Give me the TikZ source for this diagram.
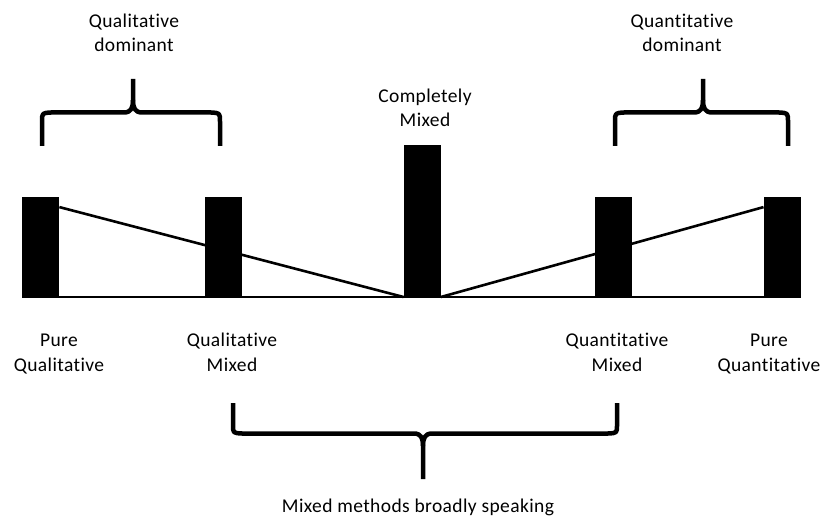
\documentclass[tikz,border=0pt]{standalone}
\usepackage{fontspec}
\setmainfont{Carlito}[LetterSpace=2,Ligatures={NoCommon}]
\begin{document}
\begin{tikzpicture}[x=1pt,y=-1pt,
  bar/.style={fill=black,draw=none,inner sep=0pt,minimum width=37pt,minimum height=101pt,anchor=south west},
  tallbar/.style={bar,minimum height=153pt},
  axisline/.style={line width=2.6pt},
  bracestyle/.style={line width=4.5pt,line join=round,line cap=butt},
  lbl/.style={align=center,inner sep=0pt,anchor=base,font=\fontsize{19.5}{24.5}\selectfont}]
\useasboundingbox (0,0) rectangle (824,518);
% bars
\node[bar] (b1) at (22,298.5) {};
\node[bar] (b2) at (205,298.5) {};
\node[tallbar] (b3) at (403.5,298.5) {};
\node[bar] (b4) at (595,298.5) {};
\node[bar] (b5) at (763.5,298.5) {};
% lines
\coordinate (l1) at ([yshift=-10pt]b1.north east);
\coordinate (l5) at ([yshift=-10pt]b5.north west);
\draw[axisline] ([yshift=1.3pt]b1.south west) -- ([yshift=1.3pt]b5.south east);
\draw[axisline] (l1) -- ([yshift=1.5pt]b3.south west);
\draw[axisline] (l5) -- ([yshift=1.5pt]b3.south east);
% braces
\draw[bracestyle] (42,146) -- (42,122) .. controls (42,113) .. (51,112.5) -- (124,112.5) .. controls (131,112.5) and (133,108) .. (133,100) -- (133,79);
\draw[bracestyle] (220,146) -- (220,122) .. controls (220,113) .. (211,112.5) -- (142,112.5) .. controls (135,112.5) and (133,108) .. (133,100);
\draw[bracestyle] (615,146) -- (615,122) .. controls (615,113) .. (624,112.5) -- (694,112.5) .. controls (701,112.5) and (703,108) .. (703,100) -- (703,79);
\draw[bracestyle] (788,146) -- (788,122) .. controls (788,113) .. (779,112.5) -- (712,112.5) .. controls (705,112.5) and (703,108) .. (703,100);
\draw[bracestyle] (233,403) -- (233,425) .. controls (233,433) .. (242,433.5) -- (414,433.5) .. controls (421,433.5) and (423,438) .. (423,446) -- (423,479);
\draw[bracestyle] (617,403) -- (617,425) .. controls (617,433) .. (608,433.5) -- (432,433.5) .. controls (425,433.5) and (423,438) .. (423,446);
% labels (anchor = baseline of last line)
\node[lbl] (tqd) at (134,52) {Qualitative\\dominant};
\node[lbl] (tnd) at (682,52) {Quantitative\\dominant};
\node[lbl] (tcm) at (425,127) {Completely\\Mixed};
\node[lbl] (tpq) at (59,371) {Pure\\Qualitative};
\node[lbl] (tqm) at (232,371) {Qualitative\\Mixed};
\node[lbl] (tnm) at (617,371) {Quantitative\\Mixed};
\node[lbl] (tpn) at (769,371) {Pure\\Quantitative};
\node[lbl] (tmm) at (418,512) {Mixed methods broadly speaking};
\end{tikzpicture}
\end{document}
